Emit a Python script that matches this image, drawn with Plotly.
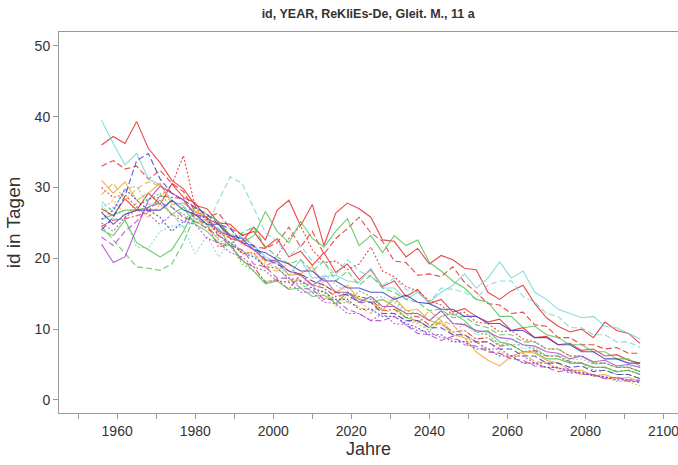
import plotly.graph_objects as go

years = [1956, 1959, 1962, 1965, 1968, 1971, 1974, 1977, 1980, 1983, 1986, 1989, 1992, 1995, 1998,
         2001, 2004, 2007, 2010, 2013, 2016, 2019, 2022, 2025, 2028, 2031, 2034, 2037, 2040, 2043,
         2046, 2049, 2052, 2055, 2058, 2061, 2064, 2067, 2070, 2073, 2076, 2079, 2082, 2085, 2088,
         2091, 2094]

red_1 = [36.0, 37.2, 36.2, 39.3, 35.5, 33.5, 31.0, 29.8, 27.5, 27.0, 25.0, 24.8, 23.2, 23.8, 21.5, 22.8, 20.2, 21.0, 19.0, 20.8, 18.0, 19.2, 17.0, 18.4, 16.0, 16.8, 14.6, 15.6, 13.6, 14.2, 12.4, 12.9, 11.8, 11.0, 11.4, 9.8, 10.2, 8.8, 9.0, 7.8, 8.0, 7.0, 7.2, 6.2, 6.4, 5.6, 5.2]
red_2 = [27.0, 26.0, 28.4, 26.8, 29.2, 27.6, 30.5, 28.6, 27.8, 25.6, 24.8, 22.8, 22.4, 24.4, 22.6, 26.8, 28.2, 24.6, 27.6, 21.8, 26.4, 27.8, 27.0, 25.8, 22.6, 22.4, 20.2, 21.4, 19.2, 20.4, 19.8, 18.6, 18.4, 15.2, 14.2, 15.4, 16.2, 13.6, 11.6, 10.4, 9.6, 10.0, 8.8, 11.0, 9.8, 9.4, 8.0]
red_3 = [33.0, 33.8, 32.6, 33.0, 31.2, 32.4, 30.6, 29.4, 26.6, 25.8, 26.4, 24.2, 23.4, 21.6, 21.4, 22.2, 24.4, 21.6, 23.8, 20.6, 22.8, 24.2, 25.8, 23.6, 22.4, 19.6, 19.4, 17.6, 17.8, 17.4, 18.8, 16.6, 15.2, 13.6, 13.4, 12.2, 12.4, 10.6, 10.4, 8.8, 8.8, 7.8, 7.8, 7.2, 7.4, 6.6, 6.6]
red_4 = [30.0, 28.6, 29.0, 27.2, 28.4, 28.6, 30.4, 34.5, 27.2, 25.4, 23.6, 22.8, 20.6, 20.8, 18.6, 20.4, 22.8, 24.6, 21.2, 19.4, 19.6, 18.4, 19.2, 21.6, 18.2, 17.4, 16.0, 15.4, 14.0, 13.4, 12.0, 12.4, 11.0, 10.8, 9.6, 9.8, 8.6, 8.2, 7.2, 7.2, 6.2, 6.2, 5.2, 5.2, 4.6, 4.6, 4.0]
red_5 = [24.5, 25.4, 25.6, 26.0, 26.6, 28.8, 28.6, 28.4, 25.6, 24.8, 21.6, 22.0, 19.6, 18.8, 16.6, 17.0, 15.6, 17.8, 16.2, 15.8, 14.6, 15.0, 14.6, 14.2, 12.6, 12.8, 11.6, 11.8, 10.6, 10.8, 9.6, 9.8, 8.6, 8.8, 7.6, 7.8, 6.8, 7.0, 6.2, 6.2, 5.4, 5.2, 4.6, 4.6, 4.0, 4.2, 3.6]
cyan_1 = [39.5, 36.2, 33.2, 34.8, 31.2, 30.4, 28.2, 27.4, 25.6, 25.4, 24.0, 23.4, 23.0, 21.8, 20.2, 19.4, 17.6, 19.8, 17.2, 17.4, 17.6, 16.8, 16.6, 18.6, 15.8, 15.8, 14.2, 15.2, 13.8, 15.2, 16.2, 17.8, 15.8, 17.2, 19.5, 17.2, 18.2, 15.2, 14.2, 12.8, 12.2, 11.6, 11.8, 10.4, 10.2, 9.4, 8.6]
cyan_2 = [28.0, 26.6, 29.8, 30.2, 27.6, 27.8, 26.2, 24.4, 25.2, 24.4, 28.2, 31.5, 30.6, 27.2, 23.6, 22.4, 20.2, 21.8, 19.6, 19.4, 17.6, 19.8, 18.2, 17.4, 16.2, 17.2, 15.6, 15.2, 13.8, 15.8, 15.6, 15.2, 14.2, 16.2, 16.8, 16.8, 14.6, 13.8, 12.2, 11.8, 10.2, 10.2, 9.2, 9.2, 8.2, 8.2, 7.4]
cyan_3 = [27.5, 25.6, 25.4, 21.6, 21.4, 23.8, 24.6, 24.4, 20.6, 23.2, 20.2, 22.4, 21.0, 20.4, 19.0, 19.4, 16.6, 16.8, 15.2, 17.8, 16.2, 15.4, 14.2, 14.4, 14.6, 13.8, 12.2, 11.8, 9.6, 11.2, 9.6, 10.8, 9.2, 9.4, 7.6, 8.8, 7.2, 7.4, 6.2, 6.4, 5.6, 5.8, 5.0, 5.2, 4.6, 4.8, 4.0]
green_1 = [24.0, 23.2, 25.4, 22.2, 21.2, 20.2, 21.2, 23.8, 27.2, 26.2, 25.2, 23.2, 22.2, 23.2, 26.6, 23.8, 22.2, 25.2, 22.8, 21.6, 23.8, 25.6, 21.8, 23.2, 20.8, 23.2, 21.8, 22.6, 19.4, 18.2, 16.8, 15.8, 14.2, 13.8, 11.8, 11.8, 10.2, 10.4, 9.2, 8.8, 7.8, 7.8, 6.8, 6.8, 5.8, 5.8, 4.8]
green_2 = [24.5, 22.6, 20.8, 18.8, 18.6, 18.3, 19.2, 22.2, 26.2, 24.8, 24.2, 21.8, 23.6, 24.4, 21.6, 20.2, 19.2, 19.8, 18.2, 19.6, 16.8, 18.2, 16.2, 17.6, 15.8, 15.2, 14.2, 13.8, 12.6, 12.8, 11.6, 11.8, 10.6, 10.2, 9.2, 9.2, 8.2, 8.2, 7.2, 7.2, 6.2, 6.2, 5.2, 5.2, 4.6, 4.6, 4.0]
green_3 = [26.5, 27.2, 25.8, 27.8, 28.2, 29.2, 27.2, 26.2, 25.2, 24.8, 22.6, 21.8, 19.2, 18.2, 16.8, 16.8, 16.6, 16.4, 15.2, 15.4, 13.6, 13.8, 15.4, 14.6, 12.8, 14.2, 12.6, 12.2, 11.2, 12.6, 10.8, 10.8, 9.6, 9.2, 7.8, 7.8, 7.8, 7.2, 6.2, 6.2, 5.2, 5.2, 4.2, 4.2, 3.6, 3.6, 3.0]
green_4 = [25.5, 26.2, 26.8, 26.8, 27.2, 28.2, 26.2, 27.2, 24.8, 23.8, 22.2, 21.8, 19.8, 18.2, 16.4, 16.8, 15.6, 15.8, 14.6, 14.8, 13.6, 15.2, 14.2, 13.8, 14.2, 13.2, 11.6, 11.2, 10.2, 11.8, 12.2, 11.2, 9.6, 9.8, 8.2, 7.8, 6.8, 6.8, 5.8, 5.8, 5.2, 5.2, 4.6, 4.6, 4.0, 4.2, 3.6]
orange_1 = [31.0, 29.2, 30.8, 28.2, 29.2, 30.6, 27.6, 27.8, 26.6, 25.8, 23.6, 23.2, 22.2, 21.2, 19.6, 19.8, 17.6, 17.8, 18.8, 16.2, 15.2, 16.2, 14.2, 13.8, 12.6, 14.6, 12.6, 12.8, 11.2, 10.8, 9.2, 8.8, 6.8, 5.6, 4.8, 6.2, 6.8, 6.6, 5.6, 5.2, 4.2, 4.2, 3.4, 3.6, 3.0, 3.2, 2.6]
orange_2 = [29.0, 30.6, 28.2, 29.8, 30.8, 30.2, 29.2, 28.2, 26.2, 25.2, 23.2, 22.2, 20.8, 20.8, 18.6, 18.2, 19.4, 16.6, 16.2, 14.2, 15.2, 13.8, 13.2, 12.2, 14.2, 13.2, 12.2, 10.8, 12.6, 11.2, 10.6, 8.8, 8.2, 6.8, 6.6, 5.8, 6.6, 5.4, 5.2, 4.4, 4.2, 3.6, 3.6, 3.0, 3.2, 2.6, 2.6]
orange_3 = [27.0, 28.2, 26.2, 27.2, 25.8, 27.6, 26.2, 25.8, 25.8, 24.2, 22.8, 24.6, 21.8, 21.6, 19.2, 18.8, 16.8, 16.8, 16.8, 15.8, 13.2, 14.8, 13.8, 12.8, 12.8, 12.2, 11.2, 10.8, 9.8, 11.2, 9.2, 9.2, 8.2, 8.2, 6.8, 6.2, 5.2, 5.2, 4.6, 4.6, 4.0, 4.2, 3.4, 3.2, 2.6, 2.6, 2.0]
blue_1 = [26.5, 24.8, 26.2, 26.8, 26.8, 26.8, 28.2, 26.8, 26.2, 24.8, 24.8, 23.2, 22.8, 21.2, 20.8, 19.8, 19.2, 18.2, 18.2, 16.8, 16.8, 15.8, 15.8, 15.2, 15.2, 14.2, 14.8, 13.8, 13.6, 12.8, 12.8, 11.8, 11.8, 10.8, 10.8, 9.8, 9.8, 8.8, 8.8, 7.8, 7.8, 6.8, 6.8, 5.8, 5.8, 5.2, 5.2]
blue_2 = [24.0, 25.8, 28.8, 33.8, 34.8, 31.2, 29.2, 28.2, 27.2, 26.2, 24.8, 24.2, 22.2, 21.8, 19.8, 19.2, 18.2, 17.8, 16.8, 16.2, 15.2, 14.8, 13.8, 13.8, 12.2, 12.2, 11.2, 11.2, 10.2, 10.2, 9.2, 9.2, 8.2, 8.2, 7.2, 7.2, 6.2, 6.2, 5.2, 5.2, 4.6, 4.8, 4.0, 4.2, 3.6, 3.6, 3.0]
blue_3 = [25.5, 26.8, 29.8, 28.2, 26.8, 25.8, 23.8, 25.2, 26.2, 25.6, 23.2, 22.2, 20.8, 20.2, 18.8, 18.6, 17.2, 16.8, 15.8, 15.2, 14.2, 14.2, 12.8, 12.8, 11.8, 11.8, 10.8, 10.2, 9.2, 9.2, 8.2, 8.2, 7.2, 7.2, 6.2, 6.2, 5.2, 5.2, 4.6, 4.6, 3.8, 3.9, 3.4, 3.3, 2.8, 2.9, 2.4]
purple_1 = [22.0, 19.4, 20.2, 24.2, 28.2, 30.2, 29.2, 28.2, 26.2, 25.8, 23.8, 23.2, 22.2, 21.2, 19.8, 19.6, 18.2, 17.6, 16.2, 17.2, 15.2, 15.2, 13.8, 14.6, 13.2, 13.2, 12.2, 12.2, 11.2, 12.6, 10.8, 10.6, 9.8, 9.6, 8.8, 8.6, 7.8, 7.6, 6.8, 6.6, 5.8, 6.2, 5.4, 5.6, 4.8, 5.0, 4.6]
purple_2 = [23.0, 21.8, 23.8, 25.2, 27.2, 27.8, 27.2, 25.8, 25.2, 24.2, 23.2, 21.8, 21.2, 19.2, 18.8, 17.2, 17.2, 15.8, 15.6, 14.2, 14.2, 12.8, 12.2, 11.2, 11.2, 11.8, 10.6, 9.4, 9.2, 8.4, 9.0, 7.8, 7.6, 6.8, 6.6, 5.8, 5.6, 4.8, 4.6, 4.0, 4.2, 3.6, 3.6, 3.0, 3.2, 2.8, 2.8]
purple_3 = [25.0, 23.8, 25.8, 26.8, 26.2, 24.8, 26.2, 25.2, 24.8, 22.8, 22.2, 20.8, 20.2, 18.8, 18.2, 16.8, 16.6, 15.2, 15.2, 13.8, 13.6, 12.2, 12.2, 11.2, 12.2, 10.8, 10.6, 9.8, 9.6, 8.8, 8.6, 8.2, 8.2, 7.2, 7.2, 6.2, 6.2, 5.2, 5.2, 4.4, 4.4, 3.8, 3.6, 3.0, 3.2, 2.6, 2.6]

RED, CYAN, GREEN, ORANGE, BLUE, PURPLE = "#e8292a", "#78d6d6", "#55c455", "#f7a42a", "#3c3cc4", "#b246cb"

series = [
    (red_1, RED, "solid"), (red_2, RED, "solid"), (red_3, RED, "6px,3px"), (red_4, RED, "2px,2px"),
    (red_5, RED, "6px,2px,2px,2px"),
    (cyan_1, CYAN, "solid"), (cyan_2, CYAN, "6px,3px"), (cyan_3, CYAN, "2px,2px"),
    (green_1, GREEN, "solid"), (green_2, GREEN, "6px,3px"), (green_3, GREEN, "2px,2px"), (green_4, GREEN, "solid"),
    (orange_1, ORANGE, "solid"), (orange_2, ORANGE, "6px,3px"), (orange_3, ORANGE, "2px,2px"),
    (blue_1, BLUE, "solid"), (blue_2, BLUE, "6px,3px"), (blue_3, BLUE, "2px,2px"),
    (purple_1, PURPLE, "solid"), (purple_2, PURPLE, "6px,3px"), (purple_3, PURPLE, "2px,2px"),
]

fig = go.Figure()
for vals, col, dash in series:
    fig.add_trace(go.Scatter(x=years, y=vals, mode="lines", opacity=0.85,
                             line=dict(color=col, width=1.1, dash=dash), showlegend=False))

axis_col = "#9a9a9a"
font_fam = "Liberation Sans, Arial, sans-serif"
fig.update_layout(
    width=678, height=465,
    margin=dict(l=59, r=0, t=32, b=52),
    paper_bgcolor="white", plot_bgcolor="white",
    font=dict(family=font_fam, color="#333333"),
    title=dict(text="<b>id, YEAR, ReKliEs-De, Gleit. M., 11 a</b>", x=0.543, xanchor="center",
               y=0.97, yanchor="middle", font=dict(size=12.5, color="#333333")),
    xaxis=dict(range=[1945.1, 2103.7], tick0=1960, dtick=20, ticks="outside", ticklen=5,
               tickcolor=axis_col, showline=True, linecolor=axis_col, linewidth=1, mirror=True,
               showgrid=False, zeroline=False, tickfont=dict(size=14, color="#333333"),
               ticklabeloverflow="allow",
               minor=dict(tick0=1950, dtick=10, ticks="outside", ticklen=5, tickcolor=axis_col),
               title=dict(text="Jahre", font=dict(size=18, color="#333333"), standoff=4)),
    yaxis=dict(range=[-1.84, 51.95], tick0=0, dtick=10, ticks="outside", ticklen=5,
               tickcolor=axis_col, showline=True, linecolor=axis_col, linewidth=1,
               showgrid=False, zeroline=False, tickfont=dict(size=14, color="#333333"),
               title=dict(text="id in Tagen", font=dict(size=19, color="#333333"), standoff=8)),
)

fig.write_html("out.html")
